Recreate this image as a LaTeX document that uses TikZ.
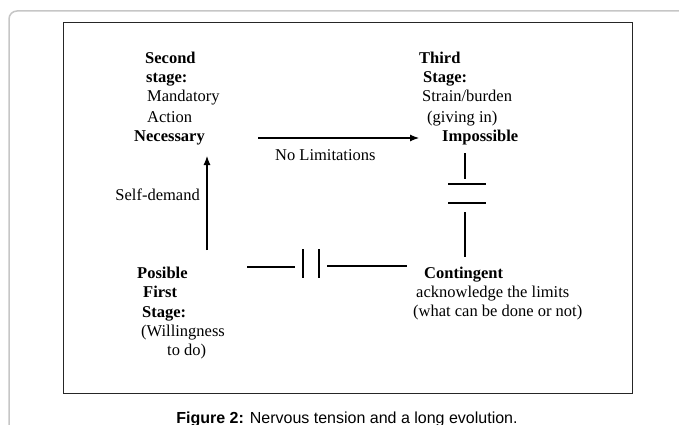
\documentclass[tikz,border=0pt]{standalone}
\usepackage{fontspec}
\setmainfont{Liberation Serif}
\setsansfont{Liberation Sans}
\usetikzlibrary{arrows.meta}
\begin{document}
\begin{tikzpicture}[x=1pt,y=-1pt,
  lbl/.style={anchor=base west, inner sep=0pt, font=\fontsize{16.5}{19.5}\selectfont},
  lblb/.style={lbl, font=\fontsize{16.5}{19.5}\selectfont\bfseries},
  conn/.style={line width=1.1pt},
  arr/.style={conn, -{Latex[length=9pt,width=7pt]}}]
\useasboundingbox (0,0) rectangle (679,425);
\clip (0,0) rectangle (679,425);
% outer page frame
\draw[gray!45, line width=1.5pt, rounded corners=8pt] (9,450) -- (9,11) -- (700,11);
% inner figure box
\node[draw=black!85, line width=1.2pt, inner sep=0pt, minimum width=569pt, minimum height=371pt, anchor=north west] (frame) at (63,22) {};
% second stage
\node[lblb] (s2a) at (145,63.5) {Second};
\node[lblb] (s2b) at (146,83) {stage:};
\node[lbl] (s2c) at (147,102) {Mandatory};
\node[lbl] (s2d) at (147,122) {Action};
\node[lblb] (nec) at (134,141) {Necessary};
% third stage
\node[lblb] (t3a) at (419,63.5) {Third};
\node[lblb] (t3b) at (423,83) {Stage:};
\node[lbl] (t3c) at (422,102) {Strain/burden};
\node[lbl] (t3d) at (427,122) {(giving in)};
\node[lblb] (imp) at (442,141) {Impossible};
% first stage
\node[lblb] (p1a) at (137,278.5) {Posible};
\node[lblb] (p1b) at (143,297.5) {First};
\node[lblb] (p1c) at (142,317) {Stage:};
\node[lbl] (p1d) at (141,336) {(Willingness};
\node[lbl] (p1e) at (167,355.5) {to do)};
% contingent
\node[lblb] (con) at (424,278.5) {Contingent};
\node[lbl] (con2) at (416,297) {acknowledge the limits};
\node[lbl] (con3) at (413,316.5) {(what can be done or not)};
% edge labels
\node[lbl, anchor=base east] (selfd) at (200,200) {Self-demand};
\node[lbl] (nolim) at (275,160.5) {No Limitations};
% connectors
\coordinate (a1s) at (207,250); \coordinate (a1e) at (207,156);
\draw[arr] (a1s) -- (a1e);
\coordinate (a2s) at (258,138); \coordinate (a2e) at (419,138);
\draw[arr] (a2s) -- (a2e);
\coordinate (v1) at (465,153); \coordinate (v2) at (465,179);
\coordinate (v3) at (465,212); \coordinate (v4) at (465,257);
\coordinate (b1l) at (448,184); \coordinate (b1r) at (486,184);
\coordinate (b2l) at (448,203); \coordinate (b2r) at (486,203);
\draw[conn] (v1) -- (v2);
\draw[conn] (b1l) -- (b1r);
\draw[conn] (b2l) -- (b2r);
\draw[conn] (v3) -- (v4);
\coordinate (h1) at (247,267); \coordinate (h2) at (295,267);
\coordinate (h3) at (327,266); \coordinate (h4) at (407,266);
\coordinate (c1t) at (303,249); \coordinate (c1b) at (303,278);
\coordinate (c2t) at (319,249); \coordinate (c2b) at (319,278);
\draw[conn] (h1) -- (h2);
\draw[conn] (c1t) -- (c1b);
\draw[conn] (c2t) -- (c2b);
\draw[conn] (h3) -- (h4);
% caption
\node[anchor=base, inner sep=0pt, font=\sffamily\fontsize{16}{18}\selectfont] (cap) at (347,423) {\textbf{Figure 2:} Nervous tension and a long evolution.};
\end{tikzpicture}
\end{document}
